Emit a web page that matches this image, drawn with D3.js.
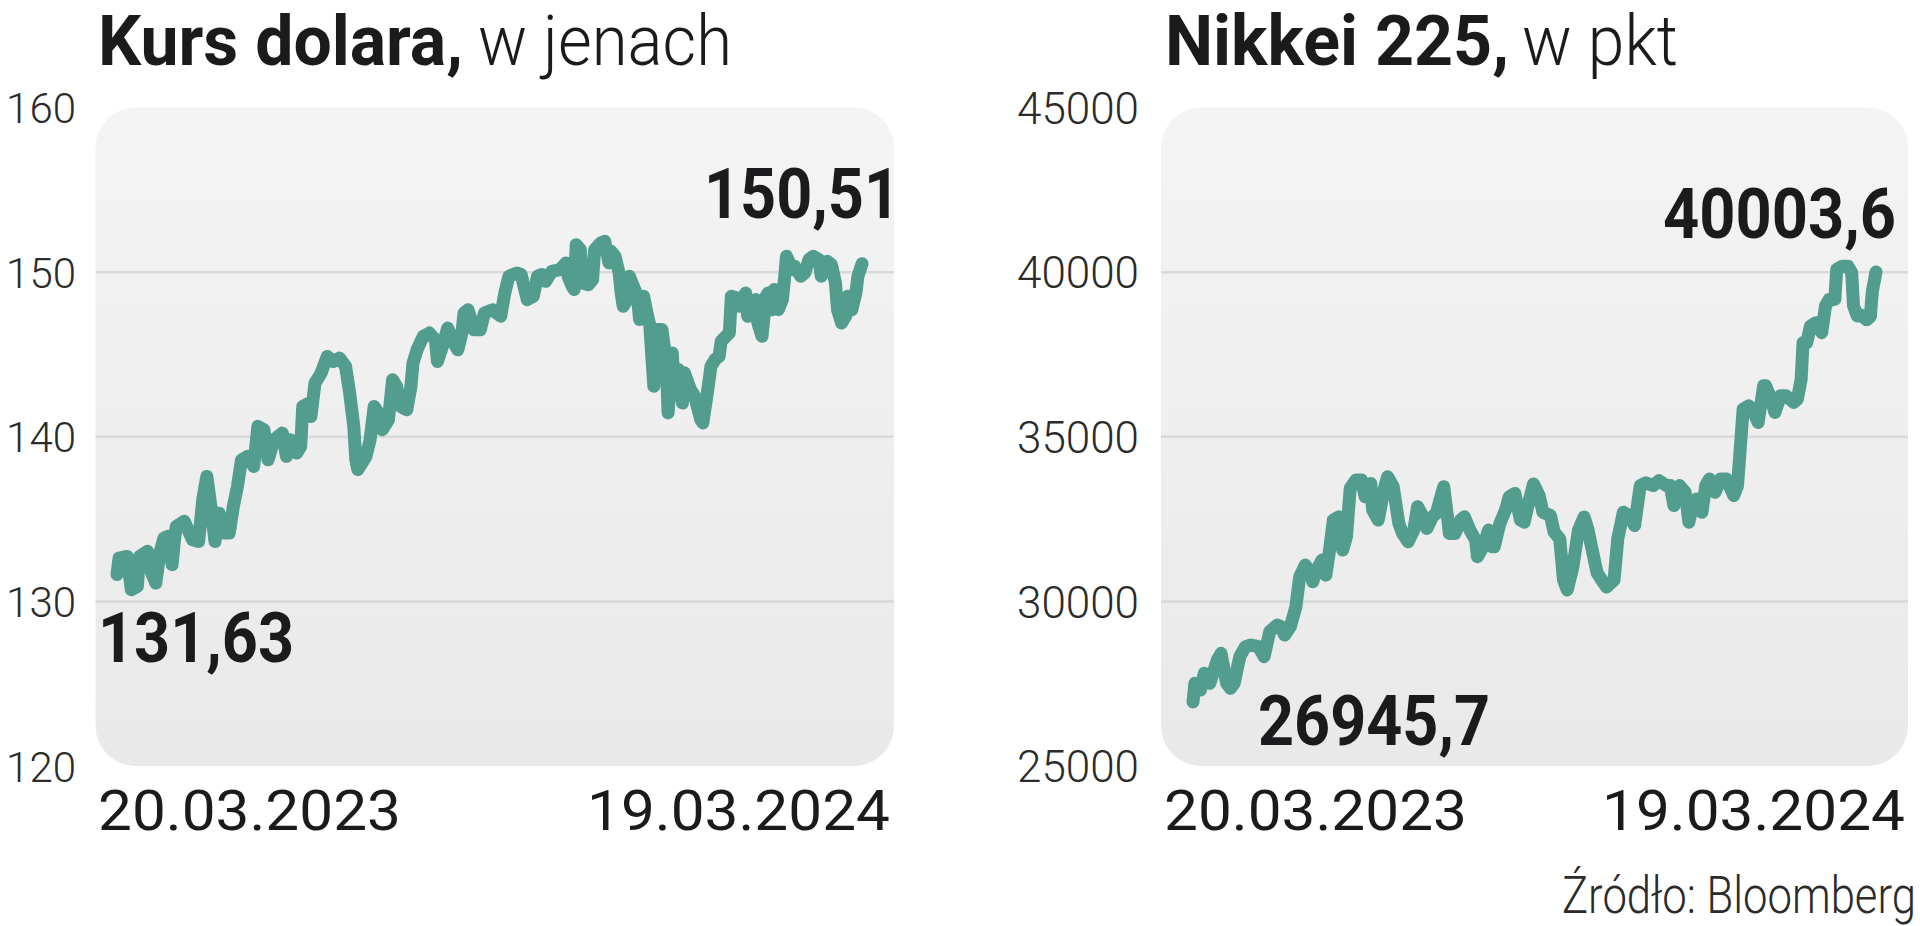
<!DOCTYPE html>
<html>
<head>
<meta charset="utf-8">
<script src="https://cdn.jsdelivr.net/npm/d3@7"></script>
<style>
html,body{margin:0;padding:0;background:#ffffff;overflow:hidden}
svg{display:block}
</style>
</head>
<body>
<svg id="chart" width="1920" height="926"></svg>
<script>
// ---------- DATA ----------
// USD/JPY, day offset from 20.03.2023
const usdDays = [0,1,5,7,10,11,15,17,19,21,23,25,27,28,29,33,37,40,42,44,46,48,50,52,55,57,59,61,64,67,69,72,74,77,79,81,83,85,88,90,91,94,95,97,100,103,106,109,112,114,116,117,118,120,122,124,126,128,130,133,135,137,139,142,144,145,147,150,153,156,157,160,162,166,167,169,170,172,175,178,180,184,188,190,192,196,198,201,204,206,208,210,213,217,220,221,223,224,225,227,228,231,233,234,237,239,241,242,244,246,247,248,250,251,253,255,256,258,260,261,263,264,267,269,270,272,273,275,277,278,281,283,286,287,289,291,293,295,296,300,301,304,305,308,309,311,313,314,316,318,319,321,322,324,326,327,328,331,332,335,337,339,341,344,345,348,350,352,353,355,357,358,360,362,363,365];
const usdRates = [131.63,132.63,132.73,130.71,130.91,132.73,133.04,131.72,131.11,132.93,133.85,133.95,132.23,133.54,134.55,134.86,133.74,133.64,136.17,137.59,135.77,133.64,135.36,134.15,134.15,135.77,136.98,138.6,138.81,138.2,140.63,140.43,138.6,139.82,140.02,140.22,138.81,139.82,139.01,139.41,141.84,142.04,141.23,143.26,143.87,144.88,144.57,144.78,144.27,142.65,140.63,138.6,138.0,138.4,138.81,139.82,141.84,141.44,140.43,141.03,143.46,143.06,141.84,141.64,143.06,144.47,145.28,146.09,146.3,145.89,144.57,145.69,146.6,145.49,145.28,146.3,147.51,147.71,146.5,146.5,147.51,147.71,147.32,148.73,149.75,149.95,149.85,148.33,148.53,149.75,149.85,149.44,150.05,150.15,150.56,149.75,149.14,148.94,151.67,151.37,149.34,149.24,149.54,151.37,151.77,151.87,150.56,151.27,150.96,149.95,148.73,147.93,148.33,149.75,149.14,148.53,147.12,148.53,147.32,146.81,143.07,146.51,146.51,144.69,141.45,145.09,143.27,144.08,142.05,143.88,142.86,142.46,141.04,140.84,142.46,144.28,144.69,144.89,145.8,146.31,148.53,148.43,147.93,148.73,147.32,147.93,148.33,146.91,146.1,148.53,148.73,147.72,148.94,147.72,148.33,149.54,150.96,150.15,150.35,149.75,149.95,150.76,150.96,150.76,149.75,150.66,150.46,149.34,147.72,146.91,147.32,148.53,147.72,148.73,149.75,150.51];

// Nikkei 225, day offset from 20.03.2023
const nkDays = [0,1,4,6,9,13,15,18,20,22,25,28,31,35,38,41,45,47,49,52,55,57,60,63,64,66,69,71,73,75,78,80,82,84,87,90,92,95,96,99,102,104,107,110,112,115,118,120,123,125,128,130,134,136,137,140,143,145,148,151,152,155,158,160,161,164,167,169,172,175,177,179,182,185,187,191,193,196,198,200,203,206,209,211,213,216,219,221,225,227,230,233,236,239,242,246,249,253,255,257,260,263,265,267,269,272,274,276,279,282,285,289,291,294,297,299,302,305,306,309,311,314,317,321,323,325,326,328,330,333,336,338,340,343,344,347,350,352,353,355,357,360,362,363,365];
const nkValues = [26945.7,27510,27308,27814,27510,28219,28421,27510,27359,27510,28320,28624,28674,28624,28320,29079,29281,29231,28978,29231,29838,30749,31103,30850,30597,30951,31255,30799,31558,32469,32570,31558,31963,33431,33684,33684,33178,33583,32773,32469,33380,33785,33481,32368,32064,31811,32166,32874,32570,32216,32570,32672,33481,32570,32064,32064,32469,32570,32166,31862,31356,31660,32166,31660,31660,32368,32773,33178,33279,32469,32405,32910,33566,33213,32708,32607,32102,31900,30648,30345,31043,32167,32562,32200,31650,30860,30600,30436,30648,31900,32708,32600,32304,33516,33600,33516,33667,33516,33516,32910,33516,33314,32405,32910,33112,32708,33516,33718,33314,33718,33718,33213,33516,35839,35940,35839,35435,36546,36546,36142,35738,36243,36243,36041,36142,36748,37859,37859,38364,38465,38162,38970,39172,39172,40081,40182,40182,39980,38970,38667,38700,38550,38650,39400,40003.6];

const usdTicks = [120,130,140,150,160];
const nkTicks = [25000,30000,35000,40000,45000];
const dateLabels = ["20.03.2023","19.03.2024"];
const usdTitle = ["Kurs dolara,","w jenach"];
const nkTitle = ["Nikkei 225,","w pkt"];
const usdEndLabels = ["131,63","150,51"];
const nkEndLabels = ["26945,7","40003,6"];
const sourceText = "Źródło: Bloomberg";

// ---------- DRAWING ----------
const svg = d3.select("#chart");
const LINE_COLOR = "#529d8e";
const TEXT_DARK = "#1b1b1d";

const defs = svg.append("defs");
const grad = defs.append("linearGradient").attr("id","panelGrad")
  .attr("x1",0).attr("y1",0).attr("x2",0).attr("y2",1);
grad.append("stop").attr("offset","0%").attr("stop-color","#f4f4f4");
grad.append("stop").attr("offset","100%").attr("stop-color","#e9e9e9");

// place a text with its left edge at x, baseline at y, scaled horizontally to width w
function placeText(parent, str, x, y, w, font){
  const t = parent.append("text")
    .attr("x",0).attr("y",0)
    .attr("font-family", font.family || "Roboto, sans-serif")
    .attr("font-weight", font.weight)
    .attr("font-size", font.size)
    .attr("fill", font.fill || TEXT_DARK)
    .text(str);
  const nat = t.node().getComputedTextLength();
  const sx = nat > 0 ? w / nat : 1;
  t.attr("transform", `translate(${x},${y}) scale(${sx},1)`);
  return t;
}

function drawPanel(cfg){
  const g = svg.append("g");
  const x = d3.scaleLinear().domain([0,365]).range(cfg.lineX);
  const y = d3.scaleLinear().domain(cfg.domain).range([cfg.panel.y1, cfg.panel.y0]);

  // panel
  g.append("rect")
    .attr("x", cfg.panel.x0).attr("y", cfg.panel.y0)
    .attr("width", cfg.panel.x1 - cfg.panel.x0)
    .attr("height", cfg.panel.y1 - cfg.panel.y0)
    .attr("rx", 40).attr("ry", 40)
    .attr("fill", "url(#panelGrad)");

  // gridlines (inner ticks)
  g.selectAll("line.grid")
    .data(cfg.ticks.filter(t => t > cfg.domain[0] && t < cfg.domain[1]))
    .join("line").attr("class","grid")
    .attr("x1", cfg.panel.x0).attr("x2", cfg.panel.x1)
    .attr("y1", d => y(d)).attr("y2", d => y(d))
    .attr("stroke", "#d9d9d9").attr("stroke-width", 2.5);

  // y axis labels
  const ax = g.append("g")
    .attr("transform", `translate(${cfg.tickX},0)`)
    .call(d3.axisLeft(y).tickValues(cfg.ticks).tickSize(0).tickPadding(0).tickFormat(d3.format("d")));
  ax.select(".domain").remove();
  ax.selectAll("text")
    .attr("font-family","Roboto, 'Open Sans', sans-serif")
    .attr("font-weight",300)
    .attr("font-size",cfg.tickSize)
    .attr("fill","#2b2b2b")
    .attr("dy","0.36em");

  // line
  const pts = cfg.days.map((d,i) => [d, cfg.values[i]]);
  g.append("path")
    .datum(pts)
    .attr("d", d3.line().x(d => x(d[0])).y(d => y(d[1])))
    .attr("fill","none")
    .attr("stroke", LINE_COLOR)
    .attr("stroke-width", 13)
    .attr("stroke-linejoin","round")
    .attr("stroke-linecap","round");

  // title
  placeText(g, cfg.titleText[0], cfg.title.x0, 65, cfg.title.w0, {weight:700, size:70});
  placeText(g, cfg.titleText[1], cfg.title.x1, 65, cfg.title.w1, {weight:300, size:70});

  // value labels
  cfg.valueLabels.forEach((lab, i) => {
    placeText(g, cfg.valueText[i], lab.x, lab.y, lab.w, {weight:700, size:71});
  });

  // date labels
  cfg.dateX.forEach((dx, i) => {
    placeText(g, dateLabels[i], dx, 830, 303, {weight:400, size:56});
  });
}

drawPanel({
  domain:[120,160], ticks: usdTicks, days: usdDays, values: usdRates,
  panel:{x0:95.5, x1:894, y0:107.5, y1:766},
  lineX:[117, 862],
  tickX:76, tickSize:42,
  titleText: usdTitle, title:{x0:98, w0:365, x1:478, w1:254},
  valueText: usdEndLabels,
  valueLabels:[{x:98, y:662, w:196},{x:704, y:218, w:196}],
  dateX:[98, 587]
});

drawPanel({
  domain:[25000,45000], ticks: nkTicks, days: nkDays, values: nkValues,
  panel:{x0:1161, x1:1908, y0:107.5, y1:766},
  lineX:[1193, 1876],
  tickX:1139, tickSize:44,
  titleText: nkTitle, title:{x0:1165, w0:344, x1:1522, w1:156},
  valueText: nkEndLabels,
  valueLabels:[{x:1258, y:745, w:232},{x:1663, y:238, w:233}],
  dateX:[1164, 1602]
});

// source
placeText(svg, sourceText, 1562, 913, 354, {weight:300, size:52, fill:"#2b2b2b"});
</script>
</body>
</html>
